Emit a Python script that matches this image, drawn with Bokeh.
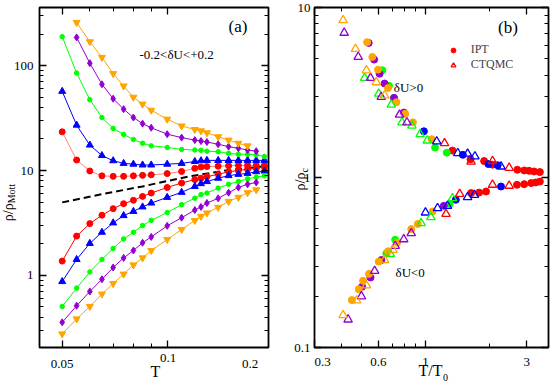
import numpy as np
from bokeh.plotting import figure
from bokeh.models import (FixedTicker, LogAxis, Label, Legend, LegendItem,
                          CustomJSTickFormatter, Range1d)
from bokeh.core.properties import value
from bokeh.layouts import row
from bokeh.embed import file_html
from bokeh.resources import INLINE

FONT = "Liberation Serif"

# ---------------- panel (a) data ----------------
T_grid = [0.05, 0.055, 0.06, 0.065, 0.07, 0.075, 0.08, 0.085, 0.09, 0.1,
          0.11, 0.12, 0.125, 0.13, 0.14, 0.15, 0.16, 0.17, 0.18, 0.19]

red_ins = [23.4, 12.6, 9.9, 8.9, 8.8, 8.8, 8.9, 9.0, 9.1, 9.35,
           9.8, 10.5, 10.8, 10.9, 11.0, 11.1, 11.2, 11.2, 11.2, 11.2]
red_met = [1.37, 2.37, 3.12, 3.75, 4.33, 4.83, 5.2, 5.67, 6.1, 6.9,
           7.6, 8.2, 8.45, 8.75, 9.2, 9.75, 10.0, 10.3, 10.5, 10.8]
blue_ins = [56.9, 27.1, 17.5, 13.9, 12.4, 11.7, 11.5, 11.3, 11.3, 11.5,
            11.7, 12.2, 12.4, 12.5, 12.5, 12.5, 12.5, 12.5, 12.5, 12.5]
blue_met = [0.874, 1.42, 2.02, 2.58, 3.17, 3.72, 4.08, 4.5, 4.9, 5.55,
            6.2, 7.05, 7.5, 7.85, 8.45, 8.95, 9.2, 9.4, 9.75, 9.9]
green_ins = [189, 85, 47.4, 32, 25.2, 22.1, 19.8, 18.2, 17.2, 16.6,
             15.9, 15.7, 15.6, 15.3, 15.1, 14.6, 14.3, 14.3, 14.1, 13.6]
green_met = [0.506, 0.757, 1.08, 1.42, 1.81, 2.23, 2.58, 2.99, 3.35, 3.98,
             4.73, 5.45, 5.9, 6.1, 6.8, 7.4, 7.86, 8.33, 8.66, 8.9]
purple_ins_T = T_grid[1:19]
purple_ins = [186, 105.6, 66.4, 48.4, 38.5, 32, 28, 25.6, 22.2,
              20.6, 19.5, 19.1, 18.7, 17.8, 16.9, 16.3, 15.7, 15.3]
purple_met_T = T_grid[0:19]
purple_met = [0.357, 0.514, 0.702, 0.92, 1.19, 1.47, 1.73, 2.05, 2.33, 2.97,
              3.55, 4.2, 4.5, 4.9, 5.43, 6.15, 6.9, 7.4, 7.7]
orange_ins_T = T_grid[1:18]
orange_ins = [258, 169, 120, 84, 64, 50, 43, 37.6, 30.9,
              26.6, 24.6, 23.9, 22.9, 21.0, 19.5, 18.2, 17.2]
orange_met_T = T_grid[0:19]
orange_met = [0.277, 0.385, 0.506, 0.664, 0.836, 1.03, 1.26, 1.47, 1.73, 2.2,
              2.74, 3.34, 3.66, 3.94, 4.46, 5.08, 5.55, 6.15, 6.55]
mott_T = [0.05, 0.065, 0.085, 0.115, 0.15, 0.19]
mott_rho = [4.97, 5.96, 7.06, 8.77, 10.1, 11.0]

a_xticks = [0.05, 0.1]
a_xminor = [0.06, 0.07, 0.08, 0.09]
a_yticks = [1, 10, 100]
a_yminor = [0.3, 0.4, 0.5, 0.6, 0.7, 0.8, 0.9, 2, 3, 4, 5, 6, 7, 8, 9,
            20, 30, 40, 50, 60, 70, 80, 90, 200, 300]

# ---------------- panel (b) data ----------------
ipt_red_x = [1.34, 1.63, 1.89, 2.07, 2.71, 2.92, 3.08, 3.25, 3.46,
             1.64, 1.79, 1.93, 2.70, 2.92, 3.15, 3.31, 3.46]
ipt_red_y = [1.44, 1.28, 1.25, 1.19, 1.11, 1.10, 1.095, 1.085, 1.076,
             0.81, 0.815, 0.827, 0.906, 0.914, 0.927, 0.935, 0.947]
ipt_blue_x = [0.983, 1.50, 1.98, 2.19, 1.39, 2.27]
ipt_blue_y = [1.87, 1.36, 1.20, 1.18, 0.74, 0.885]
ipt_green_x = [0.626, 0.673, 0.711, 1.11, 1.26, 1.30, 0.72, 0.654]
ipt_green_y = [4.27, 3.46, 2.94, 1.50, 1.40, 0.70, 0.43, 0.357]
ipt_purple_x = [0.540, 0.573, 0.608, 0.642, 0.711, 0.792, 1.22, 0.62, 0.551, 0.503]
ipt_purple_y = [6.19, 4.94, 4.08, 3.57, 2.94, 2.41, 0.681, 0.327, 0.258, 0.228]
ipt_orange_x = [0.531, 0.562, 0.598, 0.666, 0.729, 0.803, 0.873, 1.07,
                1.08, 0.92, 0.857, 0.736, 0.666, 0.602, 0.542, 0.508, 0.485, 0.45]
ipt_orange_y = [6.25, 5.12, 4.31, 3.36, 2.77, 2.37, 2.11, 1.68,
                0.631, 0.533, 0.497, 0.414, 0.368, 0.32, 0.271, 0.247, 0.22, 0.19]

ct_red_x = [1.23, 1.64, 2.07, 2.48, 1.45, 1.25, 2.07, 2.48]
ct_red_y = [1.59, 1.24, 1.25, 1.14, 0.80, 0.61, 0.906, 0.894]
ct_blue_x = [1.13, 1.42, 1.58, 1.71, 2.27, 1.58, 1.70, 1.27, 1.14, 1.0]
ct_blue_y = [1.63, 1.39, 1.38, 1.33, 1.16, 0.766, 0.79, 0.681, 0.66, 0.622]
ct_green_x = [0.517, 0.602, 0.69, 0.775, 0.863, 0.944, 1.02, 1.34, 1.06, 0.954, 0.683]
ct_green_y = [3.85, 3.11, 2.68, 2.11, 2.02, 1.80, 1.65, 0.756, 0.584, 0.539, 0.355]
ct_purple_x = [0.414, 0.482, 0.551, 0.619, 0.755, 0.818, 0.857, 0.79, 0.72, 0.576, 0.499, 0.432]
ct_purple_y = [7.1, 5.12, 3.85, 2.98, 2.34, 2.11, 0.47, 0.433, 0.396, 0.282, 0.2, 0.146]
ct_orange_x = [0.409, 0.468, 0.527, 0.587, 0.642, 0.703, 0.642, 0.527, 0.474, 0.409]
ct_orange_y = [8.42, 5.71, 4.27, 3.63, 3.04, 0.375, 0.327, 0.232, 0.189, 0.155]

b_xticks = [0.3, 0.6, 1, 3]
b_xminor = [0.4, 0.5, 0.7, 0.8, 0.9, 2]
b_yticks = [0.1, 1, 10]
b_yminor = [0.2, 0.3, 0.4, 0.5, 0.6, 0.7, 0.8, 0.9, 2, 3, 4, 5, 6, 7, 8, 9]

RED, BLUE, GREEN, PURPLE, ORANGE = "#ff0000", "#0000ff", "#00ff00", "#9400d3", "#ffa500"

H = 384
# frame geometry (canvas pixels) and ranges
A_W, A_L, A_R, A_T, A_B = 276, 39, 268, 5, 347
A_XR, A_YR = (0.04304, 0.1952), (0.2055, 358.5)
B_W, B_L, B_R, B_T, B_B = 274, 38, 272, 7, 347
B_XR, B_YR = (0.3, 3.8), (0.1, 10.0)


def setup_axis(ax, ticks, minor, labels, standoff=6, hide=()):
    ax.ticker = FixedTicker(ticks=ticks, minor_ticks=minor)
    ax.axis_line_color = None
    ax.major_tick_in = 7
    ax.major_tick_out = 0
    ax.minor_tick_in = 4
    ax.minor_tick_out = 0
    ax.major_tick_line_color = "black"
    ax.minor_tick_line_color = "black"
    ax.major_tick_line_width = 1.3
    ax.minor_tick_line_width = 1
    if labels:
        hidden = "[" + ",".join(str(h) for h in hide) + "]"
        ax.formatter = CustomJSTickFormatter(
            code="const h = %s; return h.some(v => Math.abs(v - tick) < 1e-9) ? '' : String(tick);" % hidden)
        ax.major_label_text_font = FONT
        ax.major_label_text_font_size = "13px"
        ax.major_label_text_color = "black"
        ax.major_label_standoff = standoff
    else:
        ax.formatter = CustomJSTickFormatter(code="return '';")
        ax.major_label_text_font_size = "0px"
        ax.major_label_standoff = 0


def make_fig(width, L, R, T, B, xr, yr):
    p = figure(width=width, height=H, x_axis_type="log", y_axis_type="log",
               x_range=Range1d(*xr), y_range=Range1d(*yr),
               output_backend="svg", toolbar_location=None,
               min_border_left=L, min_border_right=width - R, min_border_top=T,
               min_border_bottom=H - B)
    p.grid.visible = False
    p.outline_line_color = "black"
    p.outline_line_width = 1.8
    p.background_fill_color = "white"
    p.border_fill_color = "white"
    return p


def decorate(p, xt, xm, yt, ym, xs, ys, xhide=()):
    setup_axis(p.below[0], xt, xm, True, xs, xhide)
    setup_axis(p.left[0], yt, ym, True, ys)
    top = LogAxis()
    right = LogAxis()
    setup_axis(top, xt, xm, False)
    setup_axis(right, yt, ym, False)
    p.add_layout(top, "above")
    p.add_layout(right, "right")


def lab(p, text, x, y, size, align="left", baseline="middle"):
    p.add_layout(Label(x=x, y=y, x_units="canvas", y_units="canvas", text=text,
                       text_font=FONT, text_font_size=size, text_color="black",
                       text_align=align, text_baseline=baseline))


def px2data(px, py, L, R, T, B, xr, yr):
    lx0, lx1 = np.log10(xr[0]), np.log10(xr[1])
    ly0, ly1 = np.log10(yr[0]), np.log10(yr[1])
    return (10 ** (lx0 + (px - L) / (R - L) * (lx1 - lx0)),
            10 ** (ly0 + (B - py) / (B - T) * (ly1 - ly0)))


def outside_text(p, geo, text, px, py, size, align="left", baseline="middle", angle=0.0):
    x, y = px2data(px, py, *geo)
    p.text(x=[x], y=[y], text=[text], text_font=value(FONT), text_font_size=value(size),
           text_color="black", text_align=align, text_baseline=baseline,
           angle=angle, level="overlay")


# ---------------- panel (a) ----------------
pa = make_fig(A_W, A_L, A_R, A_T, A_B, A_XR, A_YR)
decorate(pa, a_xticks, a_xminor, a_yticks, a_yminor, 12, 6, xhide=(0.1,))
geo_a = (A_L, A_R, A_T, A_B, A_XR, A_YR)

pa.line(mott_T, mott_rho, line_color="black", line_width=2, line_dash="7 4")

series_a = [
    (T_grid, red_ins, RED, "#ff8080", "circle", 6),
    (T_grid, red_met, RED, RED, "circle", 6),
    (T_grid, blue_ins, BLUE, BLUE, "triangle", 7),
    (T_grid, blue_met, BLUE, BLUE, "triangle", 7),
    (T_grid, green_ins, GREEN, GREEN, "circle", 4.5),
    (T_grid, green_met, GREEN, GREEN, "circle", 4.5),
    (purple_ins_T, purple_ins, PURPLE, PURPLE, "diamond", 7),
    (purple_met_T, purple_met, PURPLE, PURPLE, "diamond", 7),
    (orange_ins_T, orange_ins, ORANGE, ORANGE, "inverted_triangle", 7),
    (orange_met_T, orange_met, ORANGE, ORANGE, "inverted_triangle", 7),
]
for tx, ty, mc, lc, mk, sz in series_a:
    pa.line(tx, ty, line_color=lc, line_width=1)
    pa.scatter(tx, ty, marker=mk, size=sz, fill_color=mc, line_color=mc)

lab(pa, "(a)", 228, 25.5, "17px")
lab(pa, "-0.2<δU<+0.2", 139, 53.5, "13px")
outside_text(pa, geo_a, "T", 155, 371, "16px", align="center")
outside_text(pa, geo_a, "0.1", 167.5, 357.5, "13px", align="center")
outside_text(pa, geo_a, "0.2", 249.7, 363.3, "13px", align="center")
outside_text(pa, geo_a, "ρ/ρ", 7.5, 220, "14px", baseline="alphabetic", angle=np.pi / 2)
outside_text(pa, geo_a, "Mott", 11, 202, "10px", baseline="alphabetic", angle=np.pi / 2)

# ---------------- panel (b) ----------------
pb = make_fig(B_W, B_L, B_R, B_T, B_B, B_XR, B_YR)
decorate(pb, b_xticks, b_xminor, b_yticks, b_yminor, 10, 4, xhide=(0.3,))
geo_b = (B_L, B_R, B_T, B_B, B_XR, B_YR)

ipt = [(ipt_red_x, ipt_red_y, RED), (ipt_blue_x, ipt_blue_y, BLUE),
       (ipt_green_x, ipt_green_y, GREEN), (ipt_purple_x, ipt_purple_y, PURPLE),
       (ipt_orange_x, ipt_orange_y, ORANGE)]
ct = [(ct_red_x, ct_red_y, RED), (ct_blue_x, ct_blue_y, BLUE),
      (ct_green_x, ct_green_y, GREEN), (ct_purple_x, ct_purple_y, PURPLE),
      (ct_orange_x, ct_orange_y, ORANGE)]
ipt_r = []
for xs, ys, c in ipt:
    ipt_r.append(pb.scatter(xs, ys, marker="circle", size=7, fill_color=c, line_color=c))
ct_r = []
for xs, ys, c in ct:
    ct_r.append(pb.scatter(xs, ys, marker="triangle", size=8.5, fill_color=None,
                           line_color=c, line_width=1.3))

legend = Legend(items=[LegendItem(label="IPT", renderers=[ipt_r[0]]),
                       LegendItem(label="CTQMC", renderers=[ct_r[0]])],
                location=(132.7, 275), padding=0, margin=0, spacing=-1,
                glyph_width=12, glyph_height=12, label_height=12, label_standoff=12,
                label_text_font=FONT, label_text_font_size="12px",
                border_line_color=None, background_fill_alpha=0)
pb.add_layout(legend)

lab(pb, "(b)", 221.5, 26.5, "17px")
lab(pb, "δU>0", 117.3, 87, "13px")
lab(pb, "δU<0", 119, 271.5, "13px")
outside_text(pb, geo_b, "0.3", 46, 361, "13px", align="center")
outside_text(pb, geo_b, "T/T", 142, 369.5, "16px")
outside_text(pb, geo_b, "0", 166.5, 376.5, "10px")
outside_text(pb, geo_b, "ρ/ρ", 24, 190, "14px", baseline="alphabetic", angle=np.pi / 2)
outside_text(pb, geo_b, "c", 27.5, 172, "10px", baseline="alphabetic", angle=np.pi / 2)

layout = row(pa, pb)
open("out.html", "w").write(file_html(layout, INLINE))
